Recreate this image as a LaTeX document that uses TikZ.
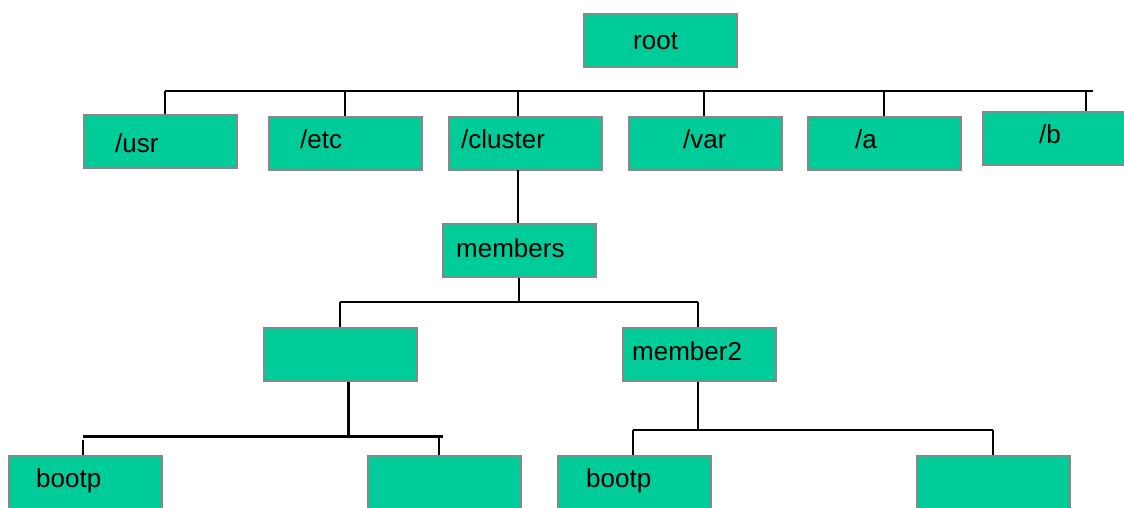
\documentclass[tikz,border=0pt]{standalone}
\usepackage{fontspec}
\setmainfont{Liberation Sans}
\definecolor{boxgreen}{HTML}{00CC99}
\definecolor{boxedge}{HTML}{888888}
\tikzset{
  dirbox/.style={draw=boxedge, line width=2pt, fill=boxgreen, rectangle,
    minimum width=153pt, minimum height=53pt, inner sep=0pt, anchor=north west},
  dirlabel/.style={anchor=base west, inner sep=0pt,
    font=\fontsize{26}{30}\selectfont},
  link/.style={draw=black, line width=1.8pt},
  thicklink/.style={draw=black, line width=3pt}
}
\begin{document}
\begin{tikzpicture}[x=1pt, y=-1pt]
\useasboundingbox (0,0) rectangle (1124,508);
\clip (0,0) rectangle (1124,508);

% directory boxes
\node[dirbox] (root)    at (583,13)  {};
\node[dirbox] (usr)     at (83,114)  {};
\node[dirbox] (etc)     at (268,116) {};
\node[dirbox] (cluster) at (448,116) {};
\node[dirbox] (var)     at (628,116) {};
\node[dirbox] (a)       at (807,116) {};
\node[dirbox] (b)       at (982,111) {};
\node[dirbox] (members) at (442,223) {};
\node[dirbox] (memberA) at (263,327) {};
\node[dirbox] (member2) at (622,327) {};
\node[dirbox] (bootpA)  at (8,455)   {};
\node[dirbox] (blankA)  at (367,455) {};
\node[dirbox] (bootpB)  at (557,455) {};
\node[dirbox] (blankB)  at (916,455) {};

% labels
\node[dirlabel] (troot)    at (633,50)  {root};
\node[dirlabel] (tusr)     at (115,153) {/usr};
\node[dirlabel] (tetc)     at (300,148) {/etc};
\node[dirlabel] (tcluster) at (461,148) {/cluster};
\node[dirlabel] (tvar)     at (683,148) {/var};
\node[dirlabel] (ta)       at (855,148) {/a};
\node[dirlabel] (tb)       at (1039,143) {/b};
\node[dirlabel] (tmembers) at (456,257) {members};
\node[dirlabel] (tmember2) at (632,360) {member2};
\node[dirlabel] (tbootpA)  at (36,487)  {bootp};
\node[dirlabel] (tbootpB)  at (586,487) {bootp};

% top-level bus
\coordinate (busL) at (165,91);
\coordinate (busR) at (1093,91);
\draw[link] (busL) -- (busR);
\foreach \x/\n in {165/usr, 345/etc, 518/cluster, 704/var, 884/a, 1086/b}
  \draw[link] (\x,91) coordinate (drop\n) -- (drop\n |- \n.north);

% /cluster -> members
\coordinate (dropMembers) at (518,170);
\draw[link] (dropMembers) -- (dropMembers |- members.north);

% members bus
\coordinate (mbusL) at (340,302);
\coordinate (mbusR) at (698,302);
\coordinate (mstem) at (519,302);
\draw[link] (mstem |- members.south) -- (mstem);
\draw[link] (mbusL) -- (mbusR);
\draw[link] (mbusL) -- (mbusL |- memberA.north);
\draw[link] (mbusR) -- (mbusR |- member2.north);

% first member bus
\coordinate (abusL) at (83,436);
\coordinate (abusR) at (443,436);
\coordinate (astem) at (348,436);
\coordinate (adropR) at (439,436);
\draw[thicklink] (astem |- memberA.south) -- (astem);
\draw[thicklink] (abusL) -- (abusR);
\draw[link] ([yshift=-4pt]abusL) -- (abusL |- bootpA.north);
\draw[link] (adropR) -- (adropR |- blankA.north);

% member2 bus
\coordinate (bbusL) at (633,430);
\coordinate (bbusR) at (993,430);
\coordinate (bstem) at (698,430);
\draw[link] (bstem |- member2.south) -- (bstem);
\draw[link] (bbusL) -- (bbusR);
\draw[link] (bbusL) -- (bbusL |- bootpB.north);
\draw[link] (bbusR) -- (bbusR |- blankB.north);
\end{tikzpicture}
\end{document}
